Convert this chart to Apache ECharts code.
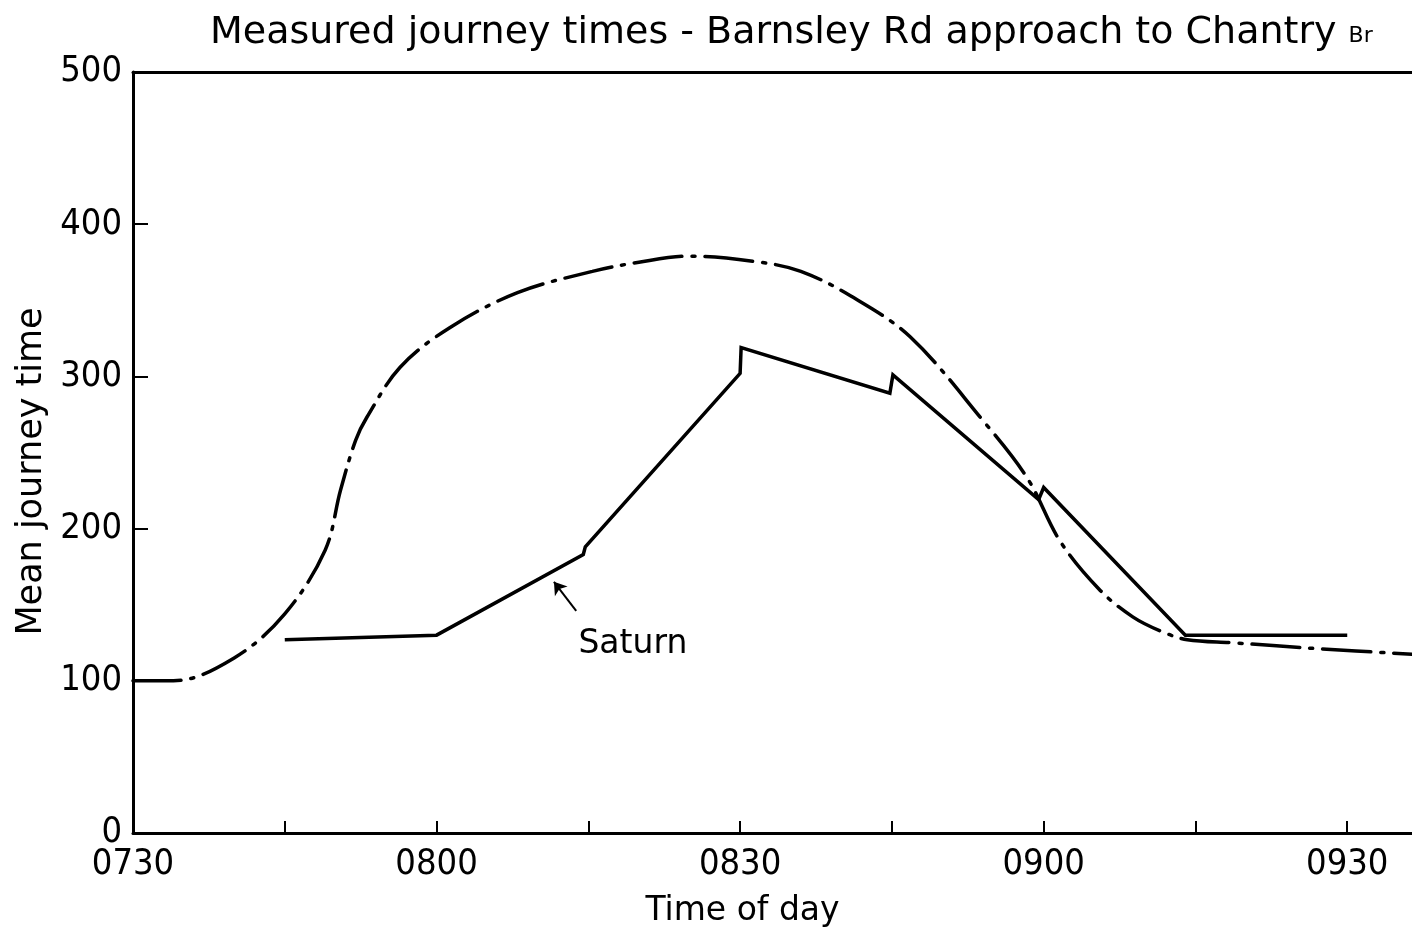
<!DOCTYPE html>
<html>
<head>
<meta charset="utf-8">
<script src="https://cdn.jsdelivr.net/npm/echarts@6/dist/echarts.min.js"></script>
<style>
  html, body { margin: 0; padding: 0; background: #fff; }
  #chart { width: 1412px; height: 935px; }
</style>
</head>
<body>
<div id="chart"></div>
<script>
// minutes after 0730
const tickMinutes = [0, 30, 60, 90, 120]
const tickLabels = ['0730', '0800', '0830', '0900', '0930']

// measured journey times (dash-dot curve)
const measuredMinutes = [0, 4, 10, 15, 19, 20.5, 22, 23.1, 26.4, 31.3, 38, 45.4, 50, 55, 62, 66, 70.9, 76.8, 84, 88.4, 91.6, 95.5, 98.8, 101.8, 104.2, 108.7, 117.3, 126.4]
const measuredTimes = [100, 100, 115, 144, 186, 225, 258, 273, 306, 332, 355, 369, 375, 379, 375, 369, 353, 326, 271, 233, 192, 160, 142, 132, 127, 125, 121, 117.5]

// Saturn model (solid line)
const saturnMinutes = [15, 30, 44.5, 44.7, 60, 60.1, 74.8, 75.1, 89.5, 90, 104, 120]
const saturnTimes = [127, 130, 183, 188, 302, 319, 289, 301, 219, 227, 130, 130]

const font = '"DejaVu Sans", sans-serif'
const narrow = '"DejaVu Sans Condensed", "DejaVu Sans", sans-serif'

const chart = echarts.init(document.getElementById('chart'))

const pair = (xs, ys) => xs.map((x, i) => [x, ys[i]])

chart.setOption({
  backgroundColor: '#fff',
  animation: false,
  textStyle: { fontFamily: font, color: '#000' },
  title: {
    text: '{a|Measured journey times - Barnsley Rd approach to Chantry }{b|Br}',
    left: 205,
    top: 9,
    textStyle: {
      rich: {
        a: { fontFamily: font, fontSize: 38, fontWeight: 'normal', color: '#000' },
        b: { fontFamily: font, fontSize: 22, fontWeight: 'normal', color: '#000', padding: [6, 0, 0, 0] }
      }
    }
  },
  grid: { left: 133, right: 0, top: 72, bottom: 102 },
  xAxis: [
    {
      type: 'value',
      min: 0,
      max: 126.4,
      interval: 15,
      name: 'Time of day',
      nameLocation: 'middle',
      nameGap: 62,
      nameTextStyle: { fontFamily: font, fontSize: 33, color: '#000', padding: [0, 60, 0, 0] },
      axisLine: { show: true, lineStyle: { color: '#000', width: 3 } },
      axisTick: { show: true, inside: true, length: 12, lineStyle: { color: '#000', width: 2 } },
      axisLabel: {
        fontFamily: narrow,
        fontSize: 36,
        color: '#000',
        margin: 14,
        showMaxLabel: false,
        formatter: v => {
          const i = tickMinutes.indexOf(Math.round(v))
          return i >= 0 ? tickLabels[i] : ''
        }
      },
      splitLine: { show: false }
    },
    {
      type: 'value',
      position: 'top',
      min: 0,
      max: 126.4,
      axisLine: { show: true, lineStyle: { color: '#000', width: 3 } },
      axisTick: { show: false },
      axisLabel: { show: false },
      splitLine: { show: false }
    }
  ],
  yAxis: {
    type: 'value',
    min: 0,
    max: 500,
    interval: 100,
    name: 'Mean journey time',
    nameLocation: 'middle',
    nameGap: 70,
    nameTextStyle: { fontFamily: font, fontSize: 35, color: '#000', padding: [0, 38, 0, 0] },
    axisLine: { show: true, lineStyle: { color: '#000', width: 3 } },
    axisTick: { show: true, inside: true, length: 15, lineStyle: { color: '#000', width: 2 } },
    axisLabel: { fontFamily: narrow, fontSize: 36, color: '#000', margin: 11 },
    splitLine: { show: false }
  },
  series: [
    {
      name: 'Measured',
      type: 'line',
      data: pair(measuredMinutes, measuredTimes),
      smooth: 0.35,
      showSymbol: false,
      lineStyle: { color: '#000', width: 3.5, type: [48, 10, 3, 10], cap: 'round' }
    },
    {
      name: 'Saturn',
      type: 'line',
      data: pair(saturnMinutes, saturnTimes),
      showSymbol: false,
      lineStyle: { color: '#000', width: 3.5, join: 'miter' },
      markLine: {
        silent: true,
        symbol: ['none', 'arrow'],
        symbolSize: 12,
        lineStyle: { color: '#000', width: 2, type: 'solid' },
        label: { show: false },
        data: [[{ coord: [43.8, 146] }, { coord: [41.6, 165] }]]
      },
      markPoint: {
        silent: true,
        symbol: 'circle',
        symbolSize: 0,
        label: {
          show: true,
          formatter: 'Saturn',
          fontFamily: font,
          fontSize: 33,
          color: '#000'
        },
        data: [{ coord: [49.4, 124] }]
      }
    }
  ]
})
</script>
</body>
</html>
